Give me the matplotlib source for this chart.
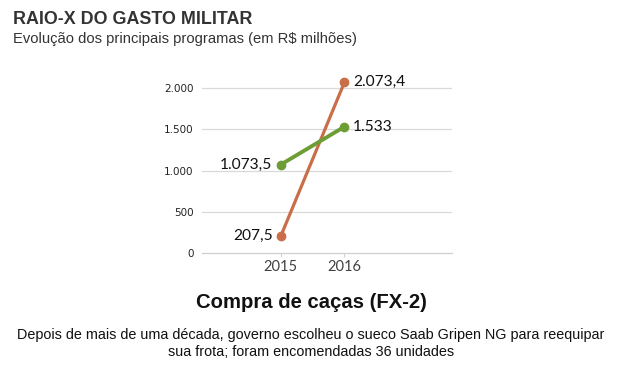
import matplotlib
matplotlib.use("Agg")
import matplotlib.pyplot as plt

years = ["2015", "2016"]
series_orange = [207.5, 2073.4]
series_green = [1073.5, 1533]
labels_orange = ["207,5", "2.073,4"]
labels_green = ["1.073,5", "1.533"]
yticks = [0, 500, 1000, 1500, 2000]
ytick_labels = ["0", "500", "1.000", "1.500", "2.000"]

title = "RAIO-X DO GASTO MILITAR"
subtitle = "Evolução dos principais programas (em R$ milhões)"
chart_title = "Compra de caças (FX-2)"
desc = "Depois de mais de uma década, governo escolheu o sueco Saab Gripen NG para reequipar\nsua frota; foram encomendadas 36 unidades"

c_orange = "#C96E48"
c_green = "#6C9E35"

W, H = 622, 377
fig = plt.figure(figsize=(W/100, H/100), dpi=100)
fig.patch.set_facecolor("white")

left, right = 202/W, 452/W
bottom = (H-253)/H
top = (H-47)/H
ax = fig.add_axes([left, bottom, right-left, top-bottom])
x = list(range(len(years)))
ax.plot(x, series_orange, color=c_orange, lw=2.3, marker="o", ms=6, zorder=3, clip_on=False)
ax.plot(x, series_green, color=c_green, lw=2.8, marker="o", ms=6, zorder=4, clip_on=False)
ax.set_xlim(-1.24, 2.69)
ax.set_ylim(0, 2500)
ax.set_yticks(yticks)
ax.set_yticklabels(ytick_labels, fontsize=7.5, family="DejaVu Sans", color="#222222")
ax.set_xticks(x)
ax.set_xticklabels(years, fontsize=10.5, family="Lato", color="#404040")
ax.tick_params(axis="y", length=0, pad=6)
ax.tick_params(axis="x", length=3, color="#d0d0d0", pad=2)
for s in ["top", "right", "left"]:
    ax.spines[s].set_visible(False)
ax.spines["bottom"].set_color("#cfcfcf")
ax.spines["bottom"].set_linewidth(0.9)
for v in yticks[1:]:
    ax.axhline(v, color="#d9d9d9", lw=0.9, zorder=1)

lab_fs = 11.2
lab_font = "Lato"
ax.annotate(labels_orange[0], (x[0], series_orange[0]), xytext=(-6, 0), textcoords="offset points",
            ha="right", va="center", fontsize=lab_fs, family=lab_font, color="#111111")
ax.annotate(labels_green[0], (x[0], series_green[0]), xytext=(-6, 0), textcoords="offset points",
            ha="right", va="center", fontsize=lab_fs, family=lab_font, color="#111111")
ax.annotate(labels_orange[1], (x[1], series_orange[1]), xytext=(6, 0), textcoords="offset points",
            ha="left", va="center", fontsize=lab_fs, family=lab_font, color="#111111")
ax.annotate(labels_green[1], (x[1], series_green[1]), xytext=(6, 0), textcoords="offset points",
            ha="left", va="center", fontsize=lab_fs, family=lab_font, color="#111111")

fig.text(13/W, 1-19/H, title, fontsize=12.9, fontweight="bold", family="Liberation Sans",
         color="#333333", ha="left", va="center")
fig.text(13/W, 1-39/H, subtitle, fontsize=10.6, family="Liberation Sans",
         color="#333333", ha="left", va="center")
fig.text(311/W, 1-302/H, chart_title, fontsize=14.6, fontweight="bold", family="Liberation Sans",
         color="#111111", ha="center", va="center")
fig.text(311/W, 1-343.5/H, desc, fontsize=10.4, family="Liberation Sans",
         color="#111111", ha="center", va="center", linespacing=1.3)

fig.savefig("out.png", dpi=100, facecolor="white")
